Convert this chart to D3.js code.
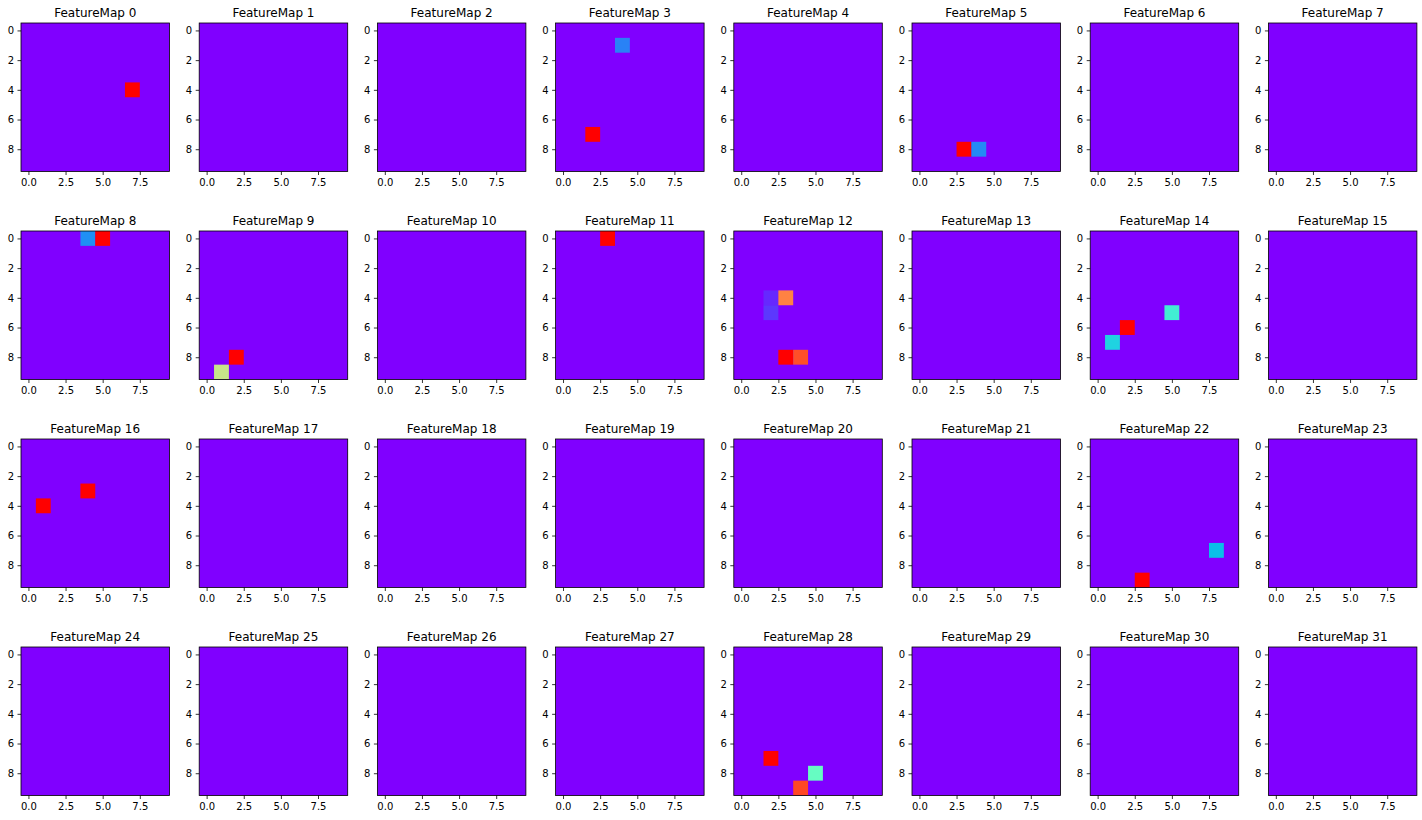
<!DOCTYPE html>
<html>
<head>
<meta charset="utf-8">
<script src="https://cdn.jsdelivr.net/npm/d3@7"></script>
<style>
  body { margin: 0; background: #fff; }
  text { font-family: "DejaVu Sans", sans-serif; }
</style>
</head>
<body>
<svg id="maps" width="1422" height="820"></svg>
<script>
// the data
const mapCount = 32;
const gridSize = 10;
const xTicks = [0, 2.5, 5, 7.5];
const yTicks = [0, 2, 4, 6, 8];
// non-zero cells: [map, column, row, normalised value]; every other cell is 0
const activeCells = [
  [0, 7, 4, 1.0],
  [3, 4, 1, 0.17], [3, 2, 7, 1.0],
  [5, 3, 8, 1.0], [5, 4, 8, 0.18],
  [8, 4, 0, 0.19], [8, 5, 0, 1.0],
  [9, 2, 8, 1.0], [9, 1, 9, 0.64],
  [11, 3, 0, 1.0],
  [12, 2, 4, 0.05], [12, 2, 5, 0.07], [12, 3, 4, 0.83], [12, 3, 8, 1.0], [12, 4, 8, 0.9],
  [14, 5, 5, 0.38], [14, 2, 6, 1.0], [14, 1, 7, 0.31],
  [16, 4, 3, 1.0], [16, 1, 4, 1.0],
  [22, 8, 7, 0.27], [22, 3, 9, 1.0],
  [28, 2, 7, 1.0], [28, 5, 8, 0.45], [28, 4, 9, 0.91]
];

let svg = d3.select("#maps");

// matplotlib "rainbow" colormap
function rainbow(t) {
  return d3.rgb(
    255 * Math.min(1, Math.abs(2 * t - 0.5)),
    255 * Math.sin(Math.PI * t),
    255 * Math.cos(Math.PI * t / 2)
  );
}

const cols = 8;
const panelW = 148.5, panelH = 148.5;
const left0 = 21, top0 = 23, stepX = 178.2, stepY = 208;

let x = d3.scaleLinear().domain([-0.5, gridSize - 0.5]).range([0, panelW]);
let y = d3.scaleLinear().domain([-0.5, gridSize - 0.5]).range([0, panelH]);

d3.range(mapCount).forEach(function (m) {
  let g = svg.append("g")
    .attr("transform", "translate(" + (left0 + (m % cols) * stepX) + "," + (top0 + Math.floor(m / cols) * stepY) + ")");

  // background = value 0
  g.append("rect")
    .attr("x", x(-0.5)).attr("y", y(-0.5))
    .attr("width", x(gridSize - 0.5) - x(-0.5))
    .attr("height", y(gridSize - 0.5) - y(-0.5))
    .attr("fill", rainbow(0));

  g.selectAll("rect.cell")
    .data(activeCells.filter(d => d[0] === m))
    .enter()
    .append("rect")
    .attr("class", "cell")
    .attr("x", d => x(d[1] - 0.5))
    .attr("y", d => y(d[2] - 0.5))
    .attr("width", x(1) - x(0))
    .attr("height", y(1) - y(0))
    .attr("fill", d => rainbow(d[3]));

  // axes
  let xa = g.append("g")
    .attr("transform", "translate(0," + panelH + ")")
    .call(d3.axisBottom(x).tickValues(xTicks).tickFormat(d3.format(".1f")).tickSize(3.5).tickPadding(3.5));
  let ya = g.append("g")
    .call(d3.axisLeft(y).tickValues(yTicks).tickFormat(d3.format("d")).tickSize(3.5).tickPadding(3.5));
  [xa, ya].forEach(function (a) {
    a.select(".domain").remove();
    a.selectAll("line").attr("stroke", "#000").attr("stroke-width", 0.8);
    a.selectAll("text").attr("font-size", 10).attr("fill", "#000");
  });

  // frame
  g.append("rect")
    .attr("width", panelW).attr("height", panelH)
    .attr("fill", "none").attr("stroke", "#000").attr("stroke-width", 0.8);

  g.append("text")
    .attr("x", panelW / 2).attr("y", -6)
    .attr("text-anchor", "middle")
    .attr("font-size", 12)
    .text("FeatureMap " + m);
});
</script>
</body>
</html>
